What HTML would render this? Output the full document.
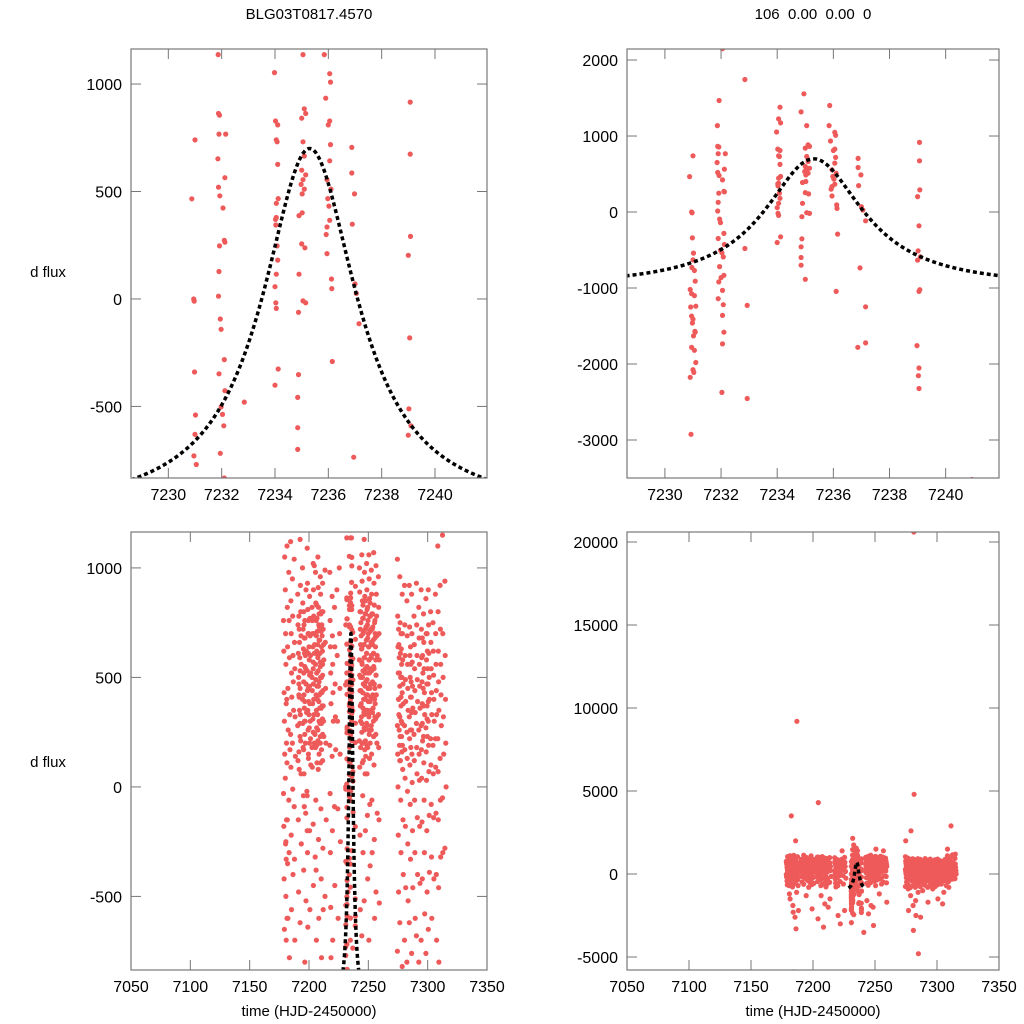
<!DOCTYPE html>
<html><head><meta charset="utf-8">
<style>
html,body{margin:0;padding:0;background:#fff;overflow:hidden;width:1024px;height:1024px;}
svg{display:block;font-family:"Liberation Sans",sans-serif;overflow:hidden;position:absolute;left:0;top:0;}
</style></head>
<body>
<svg id="chart" width="1024" height="1024" viewBox="0 0 1024 1024">
<text x="309" y="19" font-size="15" text-anchor="middle">BLG03T0817.4570</text>
<text x="813" y="19" font-size="15" text-anchor="middle" xml:space="preserve">106  0.00  0.00  0</text>
<text x="48" y="277" font-size="15" text-anchor="middle">d flux</text>
<text x="48" y="767" font-size="15" text-anchor="middle">d flux</text>
<text x="309" y="1016" font-size="15" text-anchor="middle">time (HJD-2450000)</text>
<text x="813" y="1016" font-size="15" text-anchor="middle">time (HJD-2450000)</text>
</svg>
<script>
// event-window photometry (time, flux)
const eventTimes = [
7230.88,7230.95,7230.97,7231.0,7230.98,7231.02,7231.0,7230.96,7231.05,7231.08,7230.9,7230.95,7231.05,7231.1,7230.92,7230.95,7231.0,7230.98,7231.07,7231.02,7231.08,7230.95,7231.05,7231.1,7231.0,7231.03,7230.9,7230.93,
7232.05,7231.93,7231.87,7231.88,7231.92,7231.9,7232.15,7231.86,7232.12,7231.88,7231.93,7232.05,7232.1,7231.92,7232.12,7231.9,7231.88,7231.95,7231.98,7232.1,7231.9,7232.12,7231.98,7232.03,7232.08,7231.95,7232.1,7232.0,7231.92,7232.05,7231.9,7232.08,7232.05,7232.1,7232.05,7232.03,
7232.93,7232.85,7232.85,7232.93,
7234.05,7234.1,7234.05,7234.12,7233.98,7234.02,7234.1,7234.05,7234.08,7234.1,7234.12,7234.05,7234.02,7234.03,7234.08,7234.1,7234.05,7234.0,7234.03,7234.05,7234.12,7234.0,
7235.0,7234.95,7234.85,7235.05,7235.1,7235.15,7235.0,7235.05,7235.1,7235.0,7235.05,7234.98,7235.1,7235.02,7235.15,7235.02,7234.9,7235.0,7235.12,7234.9,7235.05,7235.15,7234.88,7234.88,7234.85,7234.85,7234.85,
7236.1,7235.87,7235.85,7236.05,7236.08,7235.9,7236.05,7236.0,7236.08,7236.05,7235.95,7236.1,7235.98,7236.02,7236.05,7235.95,7235.92,7235.95,7236.12,7236.13,7236.15,
7236.87,7236.88,7236.88,7236.98,7237.0,7237.05,7237.15,7236.9,7236.95,7237.15,7237.15,
7239.05,7239.07,7239.07,7239.08,7239.0,7239.05,7239.02,7239.1,7239.0,7239.08,7239.05,7238.98,7239.05,7239.03,
7240.93];
const eventFlux = [
466,0,-10,740,-340,-540,-630,-730,-770,-910,-1020,-1075,-1100,-1240,-1250,-1370,-1410,-1460,-1570,-1630,-1580,-1780,-1820,-1980,-2075,-2110,-2175,-2925,
2150,1467,1137,863,855,767,767,652,564,520,480,423,273,247,264,128,13,-93,-141,-282,-348,-427,-502,-537,-590,-718,-833,-863,-920,-1031,-1141,-1220,-1361,-1581,-1736,-2374,-2454,
1744,-480,-1229,379,
1379,1225,1172,1053,828,810,740,731,626,467,445,370,344,247,181,115,57,-18,-44,-326,-401,-885,
1555,1317,1137,885,863,841,731,665,599,555,533,511,489,577,401,388,256,238,115,-9,-18,-62,-352,-458,-599,-700,-1044,
1401,1137,1048,1009,934,828,810,718,643,555,511,467,432,366,335,300,211,93,48,-291,-1780,
705,586,489,70,26,-115,348,-736,-1722,-1247,-2322,
916,674,291,203,-181,-511,-590,-634,-1022,-1044,-1758,-2053,-2154,-3520,
-1560];
// season photometry: nights and per-night flux values
const nightTimes = [7179,7180.5,7182,7183.5,7185,7186.5,7188,7191,7193,7195,7197,7199,7201,7204,7206,7208,7210,7212,7214,7218,7220,7222,7224,7226,7243,7245,7247,7249,7251,7253,7255,7257,7259,7275,7277,7279,7281,7283,7285,7287,7289,7291,7293,7295,7297,7299,7301,7303,7305,7307,7309,7311,7313,7315,
7192,7196,7200,7203,7207,7209,7211,7244,7246,7248,7250,7252,7254,7256,7276,7278,7286,7296,7300,7181,7198,7205];
const nightFlux = [
[760,620,430,300,150,-30,-180,-420,-650,1050],
[900,700,560,380,200,40,-260,-500,-700,-1200],
[1100,820,640,450,260,110,-150,-350,-600,3500,-1500],
[980,760,590,330,170,-60,-300,-780,-1900,-2300],
[1120,850,700,520,410,240,90,-220,-560,-2600,-5900],
[950,780,600,480,350,200,-10,-400,-1100,9200,2000,-3300],
[1040,660,540,320,140,-90,-330,-700,-2200],
[880,740,610,500,420,280,120,-150,-480],
[1130,920,800,690,560,450,330,210,60,-260,-620],
[1000,840,720,630,520,400,290,180,-40,-380,-1300],
[760,680,600,540,470,390,300,200,-120,-520,-800],
[1090,930,810,700,610,530,440,350,260,150,-40,-300,-640,-2100],
[870,770,690,600,520,460,380,300,220,100,-200,-560],
[1020,900,780,700,610,540,470,400,330,200,-170,-450,-2700,4300],
[980,840,760,690,620,560,490,420,350,270,180,-60,-380,-700,-1300],
[1050,910,820,740,670,600,530,460,390,300,210,80,-240,-600,-3200],
[960,880,790,710,640,570,500,430,360,290,200,110,-100,-420,-780,-1800],
[930,800,720,650,580,510,440,370,300,230,120,-280,-560,-2000],
[990,660,450,200,-150,-500,-1500],
[980,760,640,520,380,190,-30,-300,-550,-780],
[870,690,560,430,300,140,-200,-700,-2500],
[820,640,470,320,170,-90,-450,-3000],
[900,600,300,-100,-600,1400],
[1000,700,450,150,-250,-2200],
[1000,890,800,720,650,580,510,440,370,300,210,90,-220,-560,-1600],
[1060,940,850,770,700,630,560,500,430,360,290,200,110,-40,-300,-680,-2400],
[1130,980,870,790,720,650,590,520,460,400,330,260,170,60,-200,-520,-1900],
[1020,900,810,740,680,610,550,490,420,350,280,190,60,-130,-420,-2000,-3100],
[1060,950,860,780,710,640,580,520,450,390,320,240,130,-80,-360,-700,1500],
[990,880,790,720,650,590,530,470,410,340,260,150,-60,-300,-1200],
[1070,930,830,750,680,610,540,470,400,320,230,100,-240,-600],
[1010,880,780,690,600,510,420,320,200,-120,-480,1400],
[960,820,700,580,460,330,180,-150,-530,-1700],
[1040,780,640,520,400,280,150,0,-220,-480,-750,2000],
[960,750,610,500,410,320,230,120,-60,-300,-620,-900,-2200],
[880,700,580,470,380,290,190,80,-150,-400,-820,-1300,2600],
[920,740,600,490,390,280,170,40,-180,-460,-700,-1900,-3400,20600,4800],
[850,690,560,450,350,250,130,-20,-260,-520,-800,-1600,-2500],
[920,730,600,500,410,320,220,100,-80,-330,-620,-1100,-4800],
[880,700,570,460,360,260,150,20,-200,-460,-760,-2600],
[780,650,540,440,340,240,120,-60,-300,-600,-1000],
[930,740,600,490,390,290,180,60,-140,-400,-680],
[820,680,560,460,360,260,150,30,-180,-440,-800,-1700],
[900,720,590,480,380,280,170,40,-160,-420,-700],
[790,660,540,430,330,230,110,-60,-300,-580,-900],
[860,700,580,470,370,270,160,30,-200,-480,-760],
[900,740,610,500,400,300,190,70,-130,-390,-650,-1500],
[800,660,540,430,330,220,100,-80,-320,-600],
[750,620,510,400,300,190,60,-140,-420,-1100,-1800],
[880,700,560,440,330,220,90,-120,-400,-700],
[1100,800,620,480,350,220,70,-150,-460,-800,1500],
[920,720,560,420,280,130,-60,-320,2900],
[1150,700,500,320,150,-50,-300],
[940,600,400,200,0,-280,1200],
[780,720,660,590,530,470,410,350,290,230,160,80],
[800,740,680,610,550,480,420,360,300,240,170,60,-90],
[760,700,640,580,510,450,390,330,270,200,130],
[820,760,700,640,570,500,440,380,310,250,180,90],
[830,770,710,650,590,520,460,400,330,260,190,110],
[790,730,670,610,550,480,420,360,290,230,150],
[800,740,690,620,560,500,430,370,310,240,170],
[800,750,690,630,570,500,440,380,320,250,180],
[830,770,710,650,590,530,470,400,340,270,200,120],
[850,790,730,670,610,540,480,420,350,290,210,140],
[820,760,700,640,580,520,450,390,330,260,180],
[840,780,720,660,600,540,470,410,350,280,200],
[790,730,670,610,550,480,420,360,300,230],
[760,700,640,580,510,450,380,310,240],
[720,650,590,520,460,400,330,260,190,120],
[700,630,560,500,430,370,300,230,160],
[640,560,480,410,340,260,180],
[680,600,520,450,370,290,210],
[700,620,540,470,390,310,230],
[-250,-330,-150,400,-600],
[900,620,340,-20,-200],
[1010,650,240,-320]];
// model parameters (peak time, peak flux, baseline, width) and model range
const modelParams = [7235.3, 700, -1000, 2.15];
const modelRange = [7228.6, 7241.95];
const xTicksZoom = [7230,7232,7234,7236,7238,7240];
const xTicksFull = [7050,7100,7150,7200,7250,7300,7350];
const yTicksTL = [-500,0,500,1000];
const yTicksTR = [-3000,-2000,-1000,0,1000,2000];
const yTicksBL = [-500,0,500,1000];
const yTicksBR = [-5000,0,5000,10000,15000,20000];

const NS='http://www.w3.org/2000/svg';
const svg=document.getElementById('chart');
function mk(tag,attrs){const e=document.createElementNS(NS,tag);for(const k in attrs)e.setAttribute(k,attrs[k]);return e;}

const allT=[],allF=[];
eventTimes.forEach((t,i)=>{allT.push(t);allF.push(eventFlux[i]);});
nightTimes.forEach((t,i)=>{const v=nightFlux[i];v.forEach((f,j)=>{allT.push(t+((j%5)-2)*0.25);allF.push(f);});});

function model(t){const d=(t-modelParams[0])/modelParams[3];return modelParams[2]+(modelParams[1]-modelParams[2])/(1+d*d);}

const panels=[
 {id:'top-left',x0:131,x1:487,y0:49,y1:478,xmin:7228.6,xmax:7241.95,ymin:-833,ymax:1163,xt:xTicksZoom,yt:yTicksTL},
 {id:'top-right',x0:627,x1:999,y0:49,y1:478,xmin:7228.65,xmax:7241.9,ymin:-3500,ymax:2145,xt:xTicksZoom,yt:yTicksTR},
 {id:'bottom-left',x0:131,x1:487,y0:532,y1:970,xmin:7050,xmax:7350,ymin:-836,ymax:1164,xt:xTicksFull,yt:yTicksBL},
 {id:'bottom-right',x0:627,x1:999,y0:532,y1:970,xmin:7050,xmax:7350,ymin:-5783,ymax:20602,xt:xTicksFull,yt:yTicksBR}
];

panels.forEach((p,pi)=>{
  const xs=t=>p.x0+(t-p.xmin)/(p.xmax-p.xmin)*(p.x1-p.x0);
  const ys=v=>p.y1-(v-p.ymin)/(p.ymax-p.ymin)*(p.y1-p.y0);
  const g=mk('g',{});
  
  
  svg.appendChild(g);
  const cp=mk('clipPath',{id:'clip'+pi});
  cp.appendChild(mk('rect',{x:p.x0,y:p.y0,width:p.x1-p.x0,height:p.y1-p.y0}));
  g.appendChild(cp);
  const pts=mk('g',{'clip-path':'url(#clip'+pi+')',fill:'#ee5a5a'});
  
  
  g.appendChild(pts);
  allT.forEach((t,i)=>{
    if(t<p.xmin-1||t>p.xmax+1)return;
    const v=allF[i];
    if(v<p.ymin-500*(p.ymax-p.ymin)/2000||v>p.ymax+500*(p.ymax-p.ymin)/2000)return;
    const c=mk('circle',{cx:xs(t).toFixed(1),cy:ys(v).toFixed(1),r:2.6});
    
    
    pts.appendChild(c);
  });
  let d='';
  for(let k=0;k<=300;k++){const t=modelRange[0]+(modelRange[1]-modelRange[0])*k/300;d+=(k?'L':'M')+xs(t).toFixed(2)+','+ys(model(t)).toFixed(2);}
  const line=mk('path',{d:d,fill:'none',stroke:'#000','stroke-width':3.5,'stroke-dasharray':'4,3','clip-path':'url(#clip'+pi+')'});
  
  
  g.appendChild(line);
  const frame=mk('rect',{x:p.x0,y:p.y0,width:p.x1-p.x0,height:p.y1-p.y0,fill:'none',stroke:'#777','stroke-width':1.2});
  
  
  g.appendChild(frame);
  p.xt.forEach(t=>{
    const x=xs(t);
    g.appendChild(mk('line',{x1:x,x2:x,y1:p.y1,y2:p.y1-10,stroke:'#777','stroke-width':1}));
    g.appendChild(mk('line',{x1:x,x2:x,y1:p.y0,y2:p.y0+10,stroke:'#777','stroke-width':1}));
    const tx=mk('text',{x:x,y:p.y1+22,'font-size':16,'text-anchor':'middle'});
    tx.textContent=t;
    
    
    g.appendChild(tx);
  });
  p.yt.forEach(v=>{
    const y=ys(v);
    g.appendChild(mk('line',{x1:p.x0,x2:p.x0+10,y1:y,y2:y,stroke:'#777','stroke-width':1}));
    g.appendChild(mk('line',{x1:p.x1,x2:p.x1-10,y1:y,y2:y,stroke:'#777','stroke-width':1}));
    const ty=mk('text',{x:p.x0-9,y:y+6,'font-size':16,'text-anchor':'end'});
    ty.textContent=v;
    
    
    g.appendChild(ty);
  });
});
</script>
</body></html>
